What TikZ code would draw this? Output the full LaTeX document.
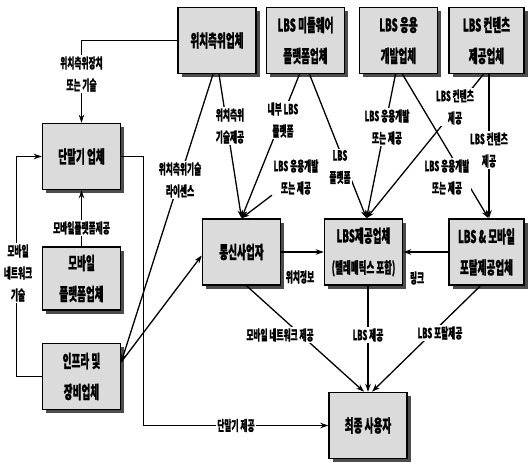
\documentclass[tikz,border=0pt]{standalone}
\usepackage{fontspec}
\newfontfamily\kr[FakeStretch=0.55,BoldFeatures={FakeBold=0.8}]{Noto Sans CJK KR}
\usetikzlibrary{arrows.meta,shadows}
\begin{document}
\begin{tikzpicture}[x=1pt,y=-1pt,
  box/.style={draw=black,line width=1.5pt,fill=black!14,minimum width=78pt,minimum height=66pt,
    align=center,inner sep=0pt,font=\kr\bfseries\fontsize{17.5}{31}\selectfont,
    drop shadow={shadow xshift=3.5pt,shadow yshift=-3.5pt,fill=black!70,opacity=1}},
  lab/.style={fill=white,align=center,inner sep=1.5pt,font=\kr\bfseries\fontsize{14}{22}\selectfont},
  arr/.style={line width=1.3pt,-{Stealth[length=8pt,width=5.5pt]}}]
\useasboundingbox (0,0) rectangle (528,463);
% boxes
\node[box] (wt) at (217,40.5) {위치측위업체};
\node[box] (mw) at (305.5,40.5) {LBS 미들웨어\\플랫폼업체};
\node[box] (app) at (398.5,40.5) {LBS 응용\\개발업체};
\node[box,minimum width=75pt] (cp) at (486.5,40.5) {LBS 컨텐츠\\제공업체};
\node[box] (dev) at (81.5,156.5) {단말기 업체};
\node[box,minimum height=63pt] (mp) at (81.5,278.5) {모바일\\플랫폼업체};
\node[box] (inf) at (81.5,376.5) {인프라 및\\장비업체};
\node[box] (tel) at (241.5,252) {통신사업자};
\node[box] (lbs) at (363.5,252) {LBS제공업체\\{\fontsize{15.5}{31}\selectfont(텔레매틱스 포함)}};
\node[box,minimum width=75pt] (portal) at (486.5,252) {LBS \& 모바일\\포탈제공업체};
\node[box] (user) at (368,425.5) {최종 사용자};
% connectors
\draw[arr] (wt.west) -| (dev.north);
\draw[arr] (mp.north) -- (dev.south);
\draw[arr] (inf.west) -- ++(-25,0) |- (dev.west);
\draw[arr] (dev.east) -- ++(22,0) |- (user.west);
\draw[arr] ([xshift=-4pt]wt.south) -- (inf.20);
\draw[arr] (inf.20) -- (tel.185);
\draw[arr] ([xshift=2pt]wt.south) -- (tel.north);
\draw[arr] ([xshift=-6pt]mw.south) -- (tel.north);
\draw[arr] ([xshift=4pt]mw.south) -- ([xshift=3pt]lbs.north);
\draw[arr] ([xshift=-3pt]app.south) -- ([xshift=3pt]lbs.north);
\draw[arr] ([xshift=4pt]app.south) -- ([xshift=2pt]portal.north);
\draw[arr] ([xshift=-3pt]cp.south) -- ([xshift=3pt]lbs.north);
\draw[arr] ([xshift=2.5pt]cp.south) -- ([xshift=2.5pt]portal.north);
\draw[arr] (tel.east) -- (lbs.west);
\draw[arr] (portal.west) -- (lbs.east);
\draw[arr] ([xshift=5pt]tel.south) -- ([xshift=-4pt]user.north);
\draw[arr] (lbs.south -| user.north) -- (user.north);
\draw[arr] ([xshift=-6pt]portal.south) -- ([xshift=4pt]user.north);
% labels
\node[lab] (l1) at (81.5,74) {위치측위장치\\또는 기술};
\node[lab] (l2) at (81.5,228) {모바일플랫폼제공};
\node[lab] (l3) at (18,273) {모바일\\네트워크\\기술};
\node[lab] (l4) at (180,180) {위치측위기술\\라이센스};
\node[lab] (l5) at (230,126) {위치측위\\기술제공};
\node[lab] (l6) at (283,120) {내부 LBS\\플랫폼};
\node[lab] (l7) at (296,177) {LBS 응용개발\\또는 제공};
\node[lab] (l8) at (340,167) {LBS\\플랫폼};
\node[lab] (l9) at (387,127) {LBS 응용개발\\또는 제공};
\node[lab] (l10) at (455,107) {LBS 컨텐츠\\제공};
\node[lab] (l11) at (447,177) {LBS 응용개발\\또는 제공};
\node[lab] (l12) at (489,150) {LBS 컨텐츠\\제공};
\node[lab] (l13) at (300,277) {위치정보};
\node[lab] (l14) at (417,278) {링크};
\node[lab] (l15) at (280,335) {모바일 네트워크 제공};
\node[lab] (l16) at (368,335) {LBS 제공};
\node[lab] (l17) at (440,333) {LBS 포탈제공};
\node[lab] (l18) at (236,425.5) {단말기 제공};
\draw[arr] (l7) -- (tel.north);
\end{tikzpicture}
\end{document}
